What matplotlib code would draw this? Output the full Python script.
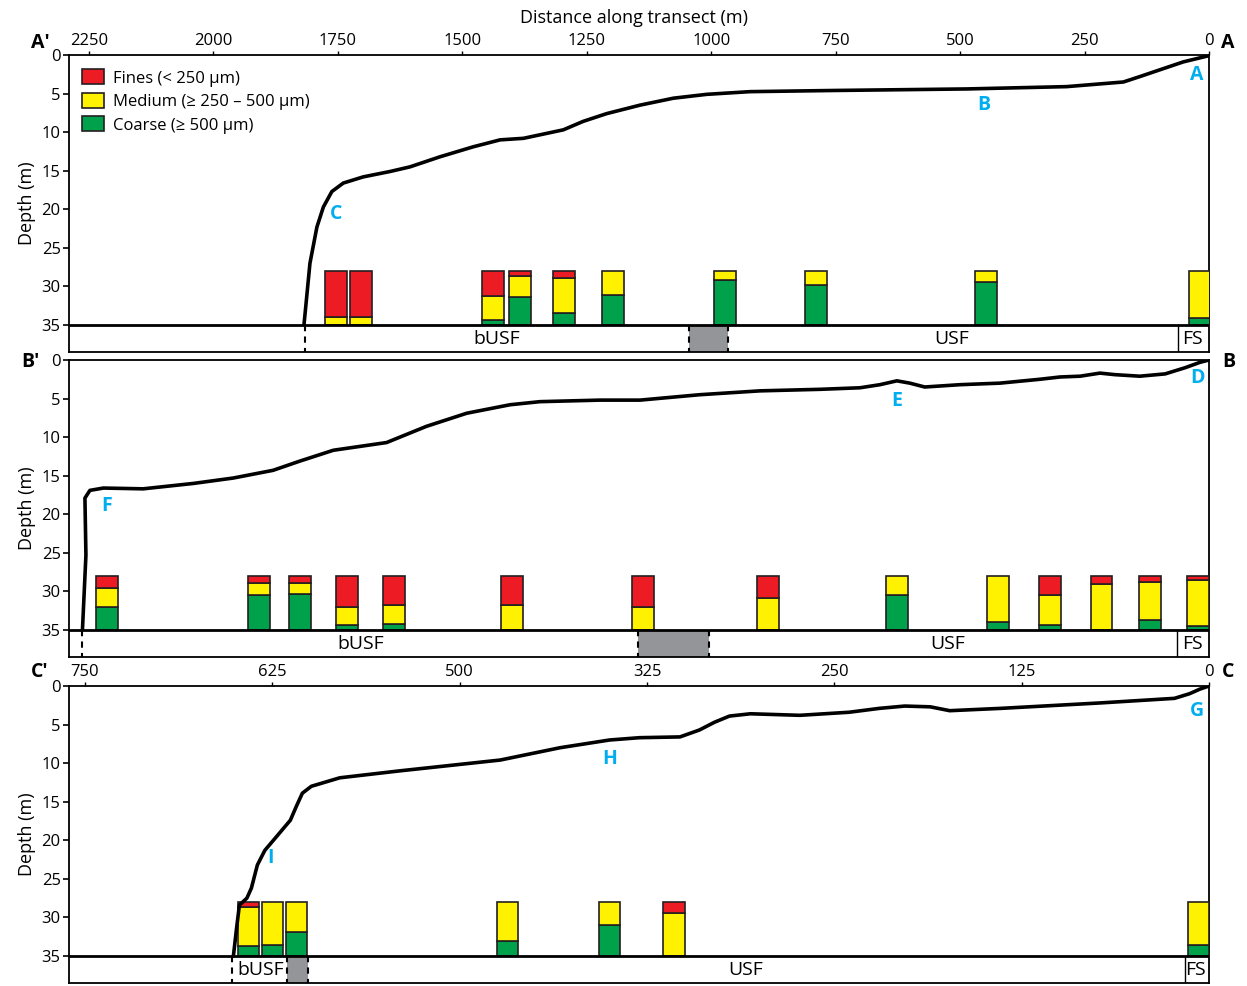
import matplotlib
matplotlib.use("Agg")
import matplotlib.pyplot as plt
from matplotlib.patches import Patch, Rectangle

plt.rcParams["font.family"] = ["Open Sans", "DejaVu Sans"]

RED, YEL, GRN = "#ED1C24", "#FFF200", "#00A14B"
GREY = "#939598"
BLUE = "#00AEEF"
EDGE = "#231F20"

# ---- bathymetric profiles (distance m, depth m) ----
A_DIST = [0, 1, 52, 139, 172, 286, 487, 755, 922, 1009, 1076, 1143, 1210, 1257, 1297,
          1377, 1424, 1478, 1545, 1605, 1645, 1699, 1739, 1762, 1779, 1792, 1806, 1818]
A_DEPTH = [0, 0.1, 0.9, 2.8, 3.5, 4.1, 4.4, 4.6, 4.75, 5.1, 5.6, 6.5, 7.6, 8.6, 9.7,
           10.8, 11.0, 11.9, 13.2, 14.5, 15.1, 15.8, 16.6, 17.7, 19.7, 22.3, 27.0, 35]

B_DIST = [0, 18, 48, 88, 139, 189, 219, 259, 299, 340, 420, 500, 571, 601, 627, 661,
          701, 781, 902, 1023, 1143, 1223, 1344, 1404, 1491, 1572, 1652, 1759, 1826,
          1880, 1960, 2040, 2141, 2221, 2248, 2258, 2256, 2263]
B_DEPTH = [0, 0.3, 1.0, 1.8, 2.1, 1.9, 1.7, 2.1, 2.2, 2.5, 3.0, 3.2, 3.5, 3.0, 2.7, 3.2,
           3.6, 3.8, 4.0, 4.5, 5.2, 5.2, 5.4, 5.8, 6.9, 8.6, 10.7, 11.7, 13.1,
           14.3, 15.3, 16.0, 16.7, 16.6, 16.9, 17.9, 25.3, 35]

C_DIST = [0, 6, 13, 23, 73, 139, 173, 186, 203, 220, 240, 273, 306, 320, 330, 340, 353,
          380, 400, 433, 473, 540, 580, 599, 605, 609, 613, 623, 630, 635, 639, 642,
          647, 649, 651]
C_DEPTH = [0, 0.4, 1.0, 1.6, 2.2, 2.9, 3.2, 2.7, 2.6, 2.9, 3.4, 3.8, 3.6, 3.9, 4.7, 5.7,
           6.6, 6.7, 7.0, 8.0, 9.6, 11.0, 11.9, 13.0, 13.9, 15.6, 17.4, 19.7, 21.3,
           23.2, 26.2, 27.5, 28.4, 31.6, 35]

# ---- grain size samples (% fines, medium, coarse) ----
A_SAMP = [1754, 1704, 1439, 1384, 1295, 1197, 973, 790, 448, 18]
A_FINES = [85, 85, 46, 9, 13, 0, 0, 0, 0, 0]
A_MED = [15, 15, 45, 40, 64, 44, 16, 26, 20, 87]
A_COARSE = [0, 0, 9, 51, 23, 56, 84, 74, 80, 13]

B_SAMP = [2214, 1909, 1826, 1732, 1637, 1400, 1137, 886, 626, 424, 320, 216, 119, 22]
B_FINES = [23, 13, 13, 57, 54, 54, 57, 41, 0, 0, 36, 15, 12, 8]
B_MED = [34, 23, 20, 34, 35, 46, 43, 59, 36, 86, 55, 85, 70, 85]
B_COARSE = [43, 64, 67, 9, 11, 0, 0, 0, 64, 14, 9, 0, 18, 7]

C_SAMP = [641, 625, 609, 468, 400, 357, 7]
C_FINES = [10, 0, 0, 0, 0, 20, 0]
C_MED = [72, 80, 56, 73, 43, 80, 79]
C_COARSE = [18, 20, 44, 27, 57, 0, 21]

# ---- facies strip: shoreline end of bUSF, grey gap, FS boundary ----
A_ZONES = {"edge": 1816, "gap": (1044, 966), "fs": 63}
B_ZONES = {"edge": 2263, "gap": (1148, 1005), "fs": 65}
C_ZONES = {"edge": 652, "gap": (615, 601), "fs": 16}

AB_TICKS = [2250, 2000, 1750, 1500, 1250, 1000, 750, 500, 250, 0]
C_TICKS = [750, 625, 500, 375, 250, 125, 0]
C_TICKLABELS = ["750", "625", "500", "325", "250", "125", "0"]

BAR_TOP, SEA_FLOOR, STRIP_BOT = 28.0, 35.0, 38.5

fig = plt.figure(figsize=(12.47, 9.86), dpi=100)
L, W = 69 / 1247, 1140 / 1247


def make_ax(top_px, xmax):
    ax = fig.add_axes([L, 1 - (top_px + 297) / 986, W, 297 / 986])
    ax.set_xlim(xmax, 0)
    ax.set_ylim(STRIP_BOT, 0)
    ax.set_yticks([0, 5, 10, 15, 20, 25, 30, 35])
    ax.tick_params(axis="y", labelsize=12, length=4, width=1.2, pad=2)
    ax.set_ylabel("Depth (m)", fontsize=13, labelpad=4)
    for s in ax.spines.values():
        s.set_linewidth(1.3)
    return ax


def draw(ax, dist, depth, samp, fines, med, coarse, zones, bw, labels):
    ax.plot(dist, depth, color="black", lw=2.6, solid_capstyle="round",
            solid_joinstyle="round", zorder=4)
    scale = (SEA_FLOOR - BAR_TOP) / 100.0
    for x, f, m, c in zip(samp, fines, med, coarse):
        y = SEA_FLOOR
        for val, col in ((c, GRN), (m, YEL), (f, RED)):
            if val > 0:
                ax.bar(x, -val * scale, bottom=y, width=bw, color=col,
                       edgecolor=EDGE, linewidth=1.2, zorder=3)
                y -= val * scale
    ax.axhline(SEA_FLOOR, color="black", lw=2, zorder=5)
    g0, g1 = zones["gap"]
    ax.add_patch(Rectangle((g1, SEA_FLOOR), g0 - g1, STRIP_BOT - SEA_FLOOR,
                           facecolor=GREY, edgecolor="none", zorder=2))
    for xv in (zones["edge"], g0, g1):
        ax.plot([xv, xv], [SEA_FLOOR, STRIP_BOT], color="black", lw=1.5,
                ls=(0, (3, 2.5)), zorder=3)
    ax.plot([zones["fs"], zones["fs"]], [SEA_FLOOR, STRIP_BOT], color="black", lw=1.0, zorder=3)
    for txt, x in labels["strip"]:
        ax.text(x, 36.8, txt, ha="center", va="center", fontsize=14)
    for txt, x, y in labels["points"]:
        ax.text(x, y, txt, ha="center", va="center", fontsize=14,
                fontweight="bold", color=BLUE)


# panel A'-A
ax1 = make_ax(55, 2290)
ax1.xaxis.tick_top()
ax1.set_xticks(AB_TICKS)
ax1.tick_params(axis="x", labelsize=12, length=3, width=1.0, pad=1)
draw(ax1, A_DIST, A_DEPTH, A_SAMP, A_FINES, A_MED, A_COARSE, A_ZONES, 44,
     {"strip": [("bUSF", 1430), ("USF", 518), ("FS", 34)],
      "points": [("A", 24, 2.6), ("B", 452, 6.5), ("C", 1754, 20.6)]})
handles = [Patch(facecolor=RED, edgecolor=EDGE, lw=1.2),
           Patch(facecolor=YEL, edgecolor=EDGE, lw=1.2),
           Patch(facecolor=GRN, edgecolor=EDGE, lw=1.2)]
ax1.legend(handles, ["Fines (< 250 µm)", "Medium (≥ 250 – 500 µm)", "Coarse (≥ 500 µm)"],
           loc="upper left", bbox_to_anchor=(0.003, 0.985), frameon=False, fontsize=12,
           handlelength=1.3, handleheight=1.0, labelspacing=0.38, handletextpad=0.55,
           borderaxespad=0.2)

# panel B'-B
ax2 = make_ax(360, 2290)
ax2.set_xticks([])
draw(ax2, B_DIST, B_DEPTH, B_SAMP, B_FINES, B_MED, B_COARSE, B_ZONES, 44,
     {"strip": [("bUSF", 1705), ("USF", 526), ("FS", 34)],
      "points": [("D", 24, 2.3), ("E", 627, 5.3), ("F", 2214, 18.9)]})

# panel C'-C
ax3 = make_ax(686, 760.7)
ax3.xaxis.tick_top()
ax3.set_xticks(C_TICKS)
ax3.set_xticklabels(C_TICKLABELS)
ax3.tick_params(axis="x", labelsize=12, length=3, width=1.0, pad=1)
draw(ax3, C_DIST, C_DEPTH, C_SAMP, C_FINES, C_MED, C_COARSE, C_ZONES, 14.3,
     {"strip": [("bUSF", 633), ("USF", 309), ("FS", 9)],
      "points": [("G", 8, 3.2), ("H", 400, 9.5), ("I", 626, 22.3)]})

fig.text(634 / 1247, 1 - 18 / 986, "Distance along transect (m)", ha="center",
         va="center", fontsize=13)
for txt, x, y in [("A′", 40, 43), ("A", 1228, 43), ("B′", 30, 362), ("B", 1229, 362),
                  ("C′", 40, 672), ("C", 1228, 672)]:
    fig.text(x / 1247, 1 - y / 986, txt, ha="center", va="center", fontsize=14,
             fontweight="bold")

fig.savefig("out.png", dpi=100)
